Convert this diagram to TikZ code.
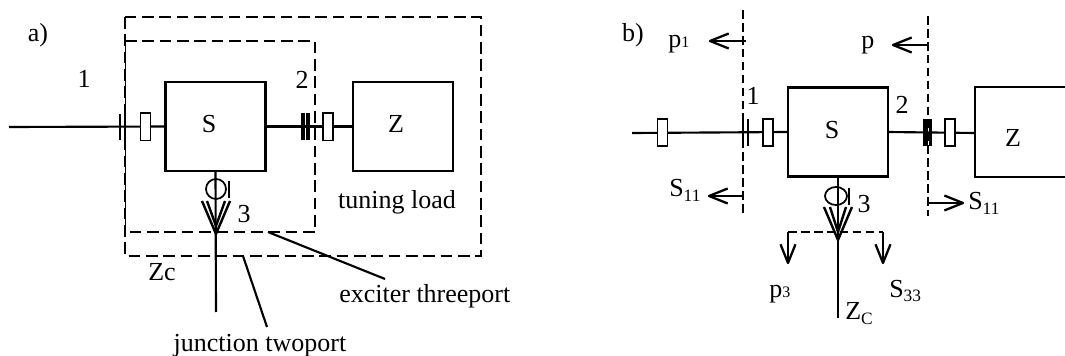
\documentclass[tikz,border=0pt]{standalone}
\usepackage{fontspec}
\setmainfont{Liberation Serif}
\usetikzlibrary{arrows.meta}
\usetikzlibrary{shapes.geometric}
\pgfdeclarelayer{bg}
\pgfsetlayers{bg,main}
\pgfdeclarearrow{
  name=OpenVee,
  setup code={\pgfarrowssettipend{0pt}\pgfarrowssetlineend{-1pt}\pgfarrowssetvisualbackend{-14pt}\pgfarrowssetbackend{-14pt}\pgfarrowshullpoint{0pt}{0pt}\pgfarrowshullpoint{-14pt}{6pt}\pgfarrowshullpoint{-14pt}{-6pt}},
  drawing code={\pgfsetlinewidth{1.7pt}\pgfsetdash{}{0pt}\pgfsetroundjoin\pgfpathmoveto{\pgfqpoint{-14pt}{5.6pt}}\pgfpathlineto{\pgfqpoint{0pt}{0pt}}\pgfpathlineto{\pgfqpoint{-14pt}{-5.6pt}}\pgfusepathqstroke}
}
\newcommand{\lowsub}[1]{\raisebox{-3.5pt}{\fontsize{13pt}{14pt}\selectfont #1}}
\newcommand{\smallsub}[1]{{\fontsize{12pt}{13pt}\selectfont #1}}
\tikzset{
  x=0.75pt,y=-0.75pt,
  wire/.style={line width=1.6pt,black},
  box/.style={draw,line width=1.9pt,minimum width=75pt,minimum height=66.5pt,inner sep=0pt,outer sep=0pt},
  cell/.style={draw,line width=1.25pt,fill=white,minimum width=7.5pt,minimum height=20.5pt,inner sep=0pt,outer sep=0pt},
  lbl/.style={inner sep=0pt,anchor=base,font=\fontsize{19.5pt}{21pt}\selectfont},
  lblw/.style={lbl,anchor=base west},
  bigdash/.style={line width=1.7pt,dash pattern=on 8.7pt off 4.3pt},
  thindash/.style={line width=.9pt,dash pattern=on 6.5pt off 3.2pt},
  tick/.style={line width=1.4pt},
  thicktick/.style={line width=2.4pt},
  bar/.style={line width=1.4pt},
  chev/.style={line width=1.8pt},
  barb/.style={line width=1.5pt,-{OpenVee[]}},
  ring/.style={draw,circle,line width=1.3pt,minimum size=15pt,inner sep=0pt,outer sep=0pt},
  oval/.style={draw,ellipse,line width=1.3pt,minimum width=16.5pt,minimum height=13.5pt,inner sep=0pt,outer sep=0pt},
}
\begin{document}
\begin{tikzpicture}
\useasboundingbox (0,0) rectangle (1065,356);
\clip (0,0) rectangle (1065,356);
% ---- a)
\node[box] (Sa) at (215.5,126.5) {};
\node[box] (Za) at (403,126.5) {};
\node[cell] (ra1) at (145.5,127) {};
\node[cell] (ra2) at (328,127) {};
\node[ring] (ca) at (216,189) {};
\coordinate (sa) at (9,127);
\coordinate (ea) at (216,312);
\coordinate (ta) at (216,234);
\begin{pgfonlayer}{bg}
\draw[wire] (sa) -- (Sa.west);
\draw[wire] (Sa.east) -- (Za.west);
\draw[wire] (Sa.south) -- (ea);
\end{pgfonlayer}
\draw[tick] (120,114) -- (120,140);
\draw[tick] (125,114) -- (125,140);
\draw[thicktick] (303,113) -- (303,140);
\draw[thicktick] (308,113) -- (308,140);
\draw[bar] (229,181) -- (229,198);
\draw[chev] (202,201) -- (ta) -- (230,201);
\draw[chev] (207,201) -- (216,226) -- (225,201);
\draw[bigdash] (125,17) rectangle (481,256);
\draw[bigdash] (125,41) -- (315,41) -- (315,232) -- (125,232);
\draw[line width=.45pt] (125,41) -- (125,232);
\coordinate (la1) at (268,232);
\coordinate (la2) at (385,279);
\coordinate (lb1) at (243,256);
\coordinate (lb2) at (267,327);
\draw[wire] (la1) -- (la2);
\draw[wire] (lb1) -- (lb2);
\node[lbl] (ta0) at (38,42) {a)};
\node[lbl] (ta1) at (84,88) {1};
\node[lbl] (ta2) at (302,89) {2};
\node[lbl] (ta3) at (244,223) {3};
\node[lbl] (taS) at (209,133) {S};
\node[lbl] (taZ) at (396,133) {Z};
\node[lbl] (tat) at (397,209) {tuning load};
\node[lblw] (tae) at (339,303) {exciter threeport};
\node[lbl] (taj) at (260,351) {junction twoport};
\node[lbl] (tac) at (162,281) {Zc};
% ---- b)
\node[box] (Sb) at (838,132) {};
\draw[line width=1.9pt] (1067,87) -- (975,87) -- (975,177) -- (1067,177);
\coordinate (Zbw) at (975,133);
\node[cell] (rb0) at (662.5,132.5) {};
\node[cell] (rb1) at (768,132.5) {};
\node[cell] (rb2) at (950,132.5) {};
\node[oval] (cb) at (836,196) {};
\coordinate (sb) at (632,133);
\coordinate (eb) at (838,318);
\coordinate (tb) at (838,240);
\begin{pgfonlayer}{bg}
\draw[wire] (sb) -- (Sb.west);
\draw[wire] (Sb.east) -- (Zbw);
\draw[wire] (Sb.south) -- (eb);
\end{pgfonlayer}
\coordinate (d1t) at (743,10);
\coordinate (d1b) at (743,216);
\coordinate (d2t) at (928,16);
\coordinate (d2b) at (928,216);
\draw[thindash] (d1t) -- (d1b);
\draw[thindash] (d2t) -- (d2b);
\draw[tick] (743,119) -- (743,146);
\draw[tick] (748,119) -- (748,146);
\draw[line width=3.6pt] (925.5,119) -- (925.5,146);
\draw[line width=1.7pt] (930.5,119) -- (930.5,146);
\draw[bar] (849,188) -- (849,205);
\draw[chev] (824,207) -- (tb) -- (852,207);
\draw[chev] (830,207) -- (838,232) -- (846,207);
\coordinate (hl) at (788,232);
\coordinate (hr) at (883,232);
\draw[thindash] (hl) -- (hr);
\coordinate (hld) at (788,263);
\coordinate (hrd) at (883,263);
\draw[barb] (hl) -- (hld);
\draw[barb] (hr) -- (hrd);
\coordinate (a1s) at (746,41);  \coordinate (a1e) at (710,41);
\coordinate (a2s) at (928,45);  \coordinate (a2e) at (893,45);
\coordinate (a3s) at (744,196); \coordinate (a3e) at (709,196);
\coordinate (a4s) at (927,203); \coordinate (a4e) at (963,203);
\draw[barb] (a1s) -- (a1e);
\draw[barb] (a2s) -- (a2e);
\draw[barb] (a3s) -- (a3e);
\draw[barb] (a4s) -- (a4e);
\node[lbl] (tb0) at (633,42) {b)};
\node[lbl] (tb1) at (753,105) {1};
\node[lbl] (tb2) at (902,114) {2};
\node[lbl] (tb3) at (864,213) {3};
\node[lbl] (tbS) at (832,139) {S};
\node[lbl] (tbZ) at (1013,147) {Z};
\node[lblw] (tp1) at (668,48) {p\smallsub{1}};
\node[lblw] (tp) at (861,49) {p};
\node[lblw] (ts1) at (669,197) {S\lowsub{11}};
\node[lblw] (ts2) at (968,210) {S\lowsub{11}};
\node[lblw] (tp3) at (769,298) {p\smallsub{3}};
\node[lblw] (ts3) at (889,297) {S\lowsub{33}};
\node[lblw] (tzc) at (845,320) {Z\lowsub{C}};
\end{tikzpicture}
\end{document}
